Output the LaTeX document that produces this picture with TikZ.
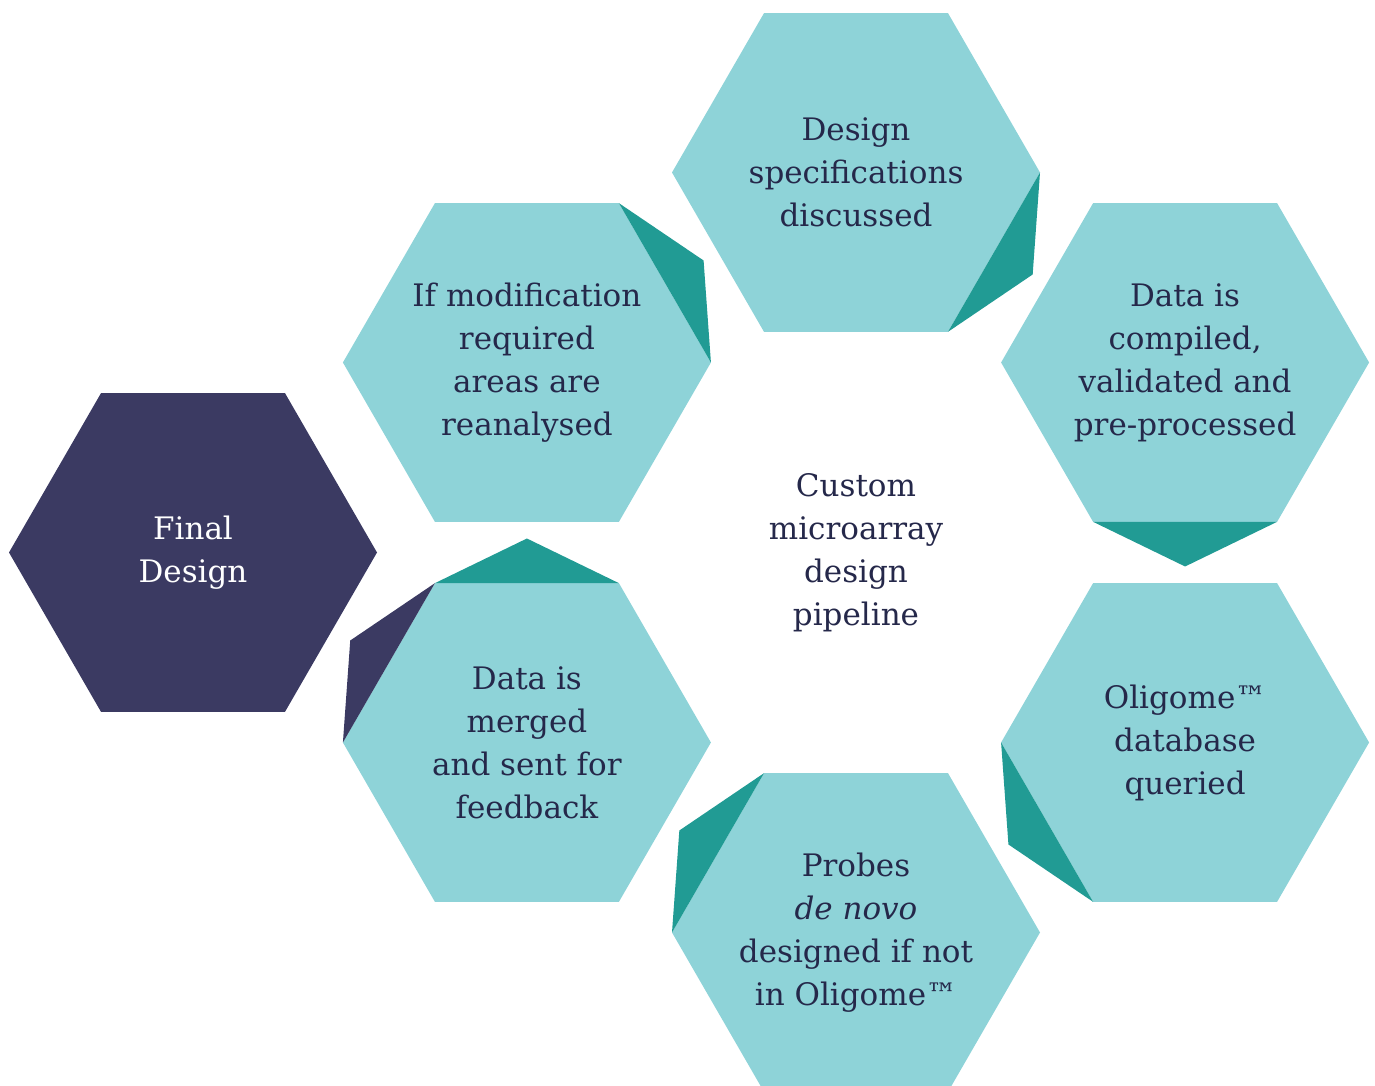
\documentclass[tikz,border=0pt]{standalone}
\usepackage{fontspec}
\setmainfont{DejaVu Serif}
\usetikzlibrary{shapes.geometric,calc}
\definecolor{hexlight}{HTML}{8ED3D8}
\definecolor{hexdark}{HTML}{219B94}
\definecolor{hexnavy}{HTML}{3B3A62}
\definecolor{hextext}{HTML}{25284A}
\tikzset{
    hex-box/.style = {regular polygon, regular polygon sides=6, minimum size=184pt, inner sep=0pt, outer sep=0pt, fill=hexlight},
    hex-final/.style = {hex-box, fill=hexnavy},
    hex-text/.style = {text=hextext, align=center, font=\fontsize{15.5}{21.5}\selectfont},
    hex-tip/.style = {fill=hexdark},
    hex-tip-navy/.style = {fill=hexnavy},
}
\begin{document}
\begin{tikzpicture}[x=0.5pt, y=0.5pt]
\useasboundingbox (0,0) rectangle (1375,1086);
\clip (0,0) rectangle (1375,1086);
\coordinate (mid) at (856,533.5);
% ring of steps
\node [hex-box, label={[hex-text]center:{Design\\specifications\\discussed}}] (spec) at ($(mid)+(90:380)$) {};
\node [hex-box, label={[hex-text]center:{Data is\\compiled,\\validated and\\pre-processed}}] (compile) at ($(mid)+(30:380)$) {};
\node [hex-box, label={[hex-text]center:{Oligome™\\database\\queried}}] (query) at ($(mid)+(-30:380)$) {};
\node [hex-box, label={[hex-text]center:{Probes\\\textit{de novo}\\designed if not\\in Oligome™}}] (probes) at ($(mid)+(-90:380)$) {};
\node [hex-box, label={[hex-text]center:{Data is\\merged\\and sent for\\feedback}}] (merge) at ($(mid)+(-150:380)$) {};
\node [hex-box, label={[hex-text]center:{If modification\\required\\areas are\\reanalysed}}] (modify) at ($(mid)+(150:380)$) {};
\node [hex-final, label={[hex-text, text=white]center:{Final\\Design}}] (final) at (193,533.5) {};
\node [hex-text] (title) at (mid) {Custom\\microarray\\design\\pipeline};
% pointers
\fill [hex-tip] (spec.0) -- ($(spec.center)+(-30:204)$) -- (spec.-60) -- cycle;
\fill [hex-tip] (compile.-60) -- ($(compile.center)+(-90:204)$) -- (compile.-120) -- cycle;
\fill [hex-tip] (query.180) -- ($(query.center)+(210:204)$) -- (query.240) -- cycle;
\fill [hex-tip] (probes.120) -- ($(probes.center)+(150:204)$) -- (probes.180) -- cycle;
\fill [hex-tip] (merge.60) -- ($(merge.center)+(90:204)$) -- (merge.120) -- cycle;
\fill [hex-tip-navy] (merge.120) -- ($(merge.center)+(150:204)$) -- (merge.180) -- cycle;
\fill [hex-tip] (modify.0) -- ($(modify.center)+(30:204)$) -- (modify.60) -- cycle;
\end{tikzpicture}
\end{document}
